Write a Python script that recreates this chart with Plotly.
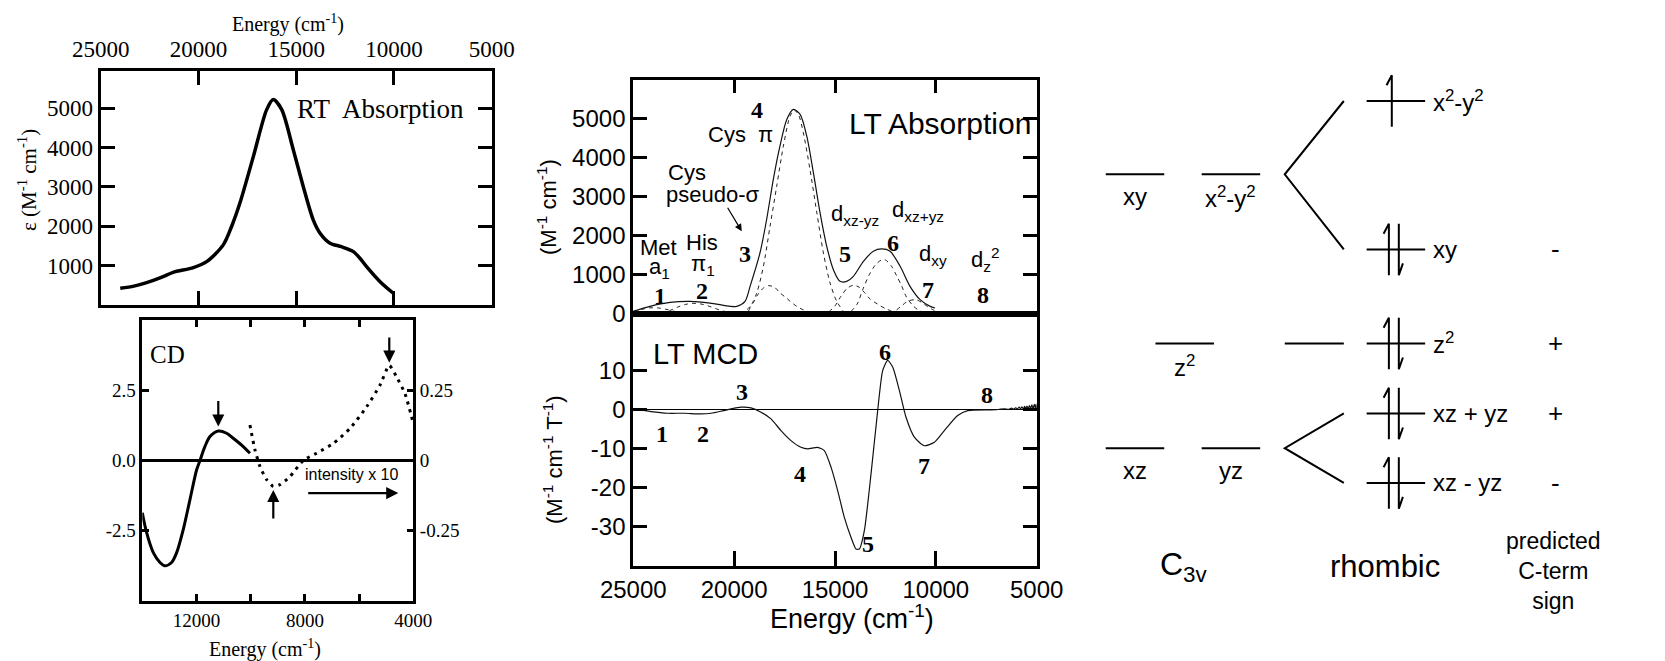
import plotly.graph_objects as go

W, H = 1665, 661
SERIF = "Liberation Serif"
SANS = "Liberation Sans"

# ---------------- data ----------------
# RT absorption (top-left)
rt_energy = [24000, 23300, 22650, 21900, 21300, 20260, 19580, 18730, 18300, 17880, 17190, 16510,
             16170, 15740, 15150, 14640, 14130, 13780, 13270, 12690, 12080, 11740, 11400, 10710, 10030]
rt_eps = [425, 480, 567, 700, 830, 950, 1100, 1527, 2000, 2588, 3774, 4962,
          5216, 4962, 3944, 3010, 2163, 1824, 1570, 1480, 1356, 1188, 975, 593, 298]
rt_xticks = [25000, 20000, 15000, 10000, 5000]
rt_xticktext = ["25000", "20000", "15000", "10000", "5000"]
rt_yticks = [1000, 2000, 3000, 4000, 5000]

# CD (bottom-left)
cd_energy = [14000, 13840, 13594, 13348, 13164, 12918, 12733, 12487, 12241, 11995, 11872,
             11688, 11503, 11196, 10888, 10642, 10335, 10028]
cd_signal = [-1.86, -2.57, -3.28, -3.63, -3.75, -3.63, -3.28, -2.45, -1.39, -0.33, 0.0,
             0.50, 0.85, 1.05, 0.97, 0.79, 0.55, 0.26]
cdx10_energy = [10028, 9843, 9658, 9412, 9166, 8920, 8551, 8059, 7567, 6952, 6337, 5722,
                5230, 4886, 4615, 4307, 4000]
cdx10_signal = [0.126, 0.038, -0.021, -0.068, -0.092, -0.086, -0.057, 0.0, 0.026, 0.061,
                0.114, 0.191, 0.268, 0.338, 0.297, 0.238, 0.132]
cd_xticks = [12000, 10000, 8000, 6000, 4000]
cd_xticktext = ["12000", "", "8000", "", "4000"]
cd_yticks = [-2.5, 0, 2.5]
cd_yticktext = ["-2.5", "0.0", "2.5"]
cd_y2ticks = [-0.25, 0, 0.25]
cd_y2ticktext = ["-0.25", "0", "0.25"]

# LT absorption (middle top)
lt_energy = [25000, 24170, 23180, 22190, 21200, 20200, 19870, 19460, 19210, 18720, 18390, 18060,
             17730, 17390, 17060, 16730, 16400, 16070, 15740, 15410, 15080, 14750, 14420, 14090,
             13590, 13100, 12680, 12270, 11770, 11280, 10780, 10280, 10040]
lt_abs = [60, 190, 290, 317, 274, 190, 190, 317, 703, 1560, 2416, 3445,
          4302, 4987, 5244, 5116, 4559, 3616, 2588, 1731, 1131, 831, 831, 960,
          1345, 1602, 1662, 1602, 1217, 703, 360, 189, 146]
band1_e = [25000, 24600, 24200, 23800, 23400, 23000, 22600, 22300]
band1_v = [60, 110, 150, 150, 115, 65, 25, 5]
band2_e = [23600, 23200, 22800, 22400, 22000, 21600, 21200, 20800, 20400, 20000]
band2_v = [20, 80, 170, 240, 265, 245, 185, 110, 50, 15]
band3_e = [19700, 19380, 19050, 18880, 18550, 18300, 18000, 17720, 17400, 17230, 16900, 16570, 16200]
band3_v = [20, 100, 280, 450, 660, 720, 680, 530, 400, 320, 190, 100, 30]
band4_e = [19300, 18880, 18550, 18220, 17890, 17560, 17230, 17030, 16815, 16570, 16240, 15900,
           15575, 15244, 14914, 14583]
band4_v = [60, 530, 1217, 2245, 3273, 4302, 5073, 5227, 5116, 4644, 3702, 2588, 1560, 788, 317, 60]
band5_e = [15300, 15000, 14700, 14400, 14100, 13800, 13500, 13250, 12900, 12500, 12100]
band5_v = [50, 200, 450, 650, 730, 680, 520, 370, 250, 130, 50]
band6_e = [14200, 13900, 13600, 13300, 13000, 12700, 12500, 12200, 11950, 11700, 11450, 11100, 10800, 10500]
band6_v = [60, 250, 650, 1000, 1250, 1380, 1380, 1220, 980, 720, 420, 190, 70, 20]
band7_e = [12300, 12000, 11700, 11400, 11000, 10700, 10400, 10100, 9900]
band7_v = [20, 80, 200, 320, 360, 290, 180, 90, 40]
lt_yticks = [0, 1000, 2000, 3000, 4000, 5000]

# LT MCD (middle bottom)
mcd_energy = [24950, 24124, 23298, 22471, 21645, 21149, 20653, 20157, 19661, 19165, 18669, 18174,
              17678, 17182, 16686, 16355, 15860, 15529, 15198, 14868, 14537, 14207, 13959, 13793,
              13545, 13215, 12884, 12636, 12388, 12140, 11810, 11479, 11066, 10570, 10074, 9579,
              8917, 8421, 7264, 6900, 6600, 6400, 6250, 6150, 6050, 5950, 5870, 5800, 5730, 5660,
              5600, 5540, 5480, 5420, 5360, 5300, 5240, 5180, 5120, 5070, 5030, 5010]
mcd_signal = [0.26, -0.43, -0.86, -0.86, -1.03, -0.86, -0.34, 0.26, 0.69, 0.51, -0.6, -2.31,
              -5.31, -7.88, -9.6, -10.0, -9.6, -10.45, -14.7, -20.7, -27.6, -32.7, -35.7, -35.7,
              -31.0, -16.5, -0.17, 10.1, 12.7, 11.0, 5.0, -1.9, -7.0, -9.2, -8.3, -5.3,
              -1.46, -0.17, 0.0, 0.1, 0.3, 0.15, 0.45, 0.2, 0.55, 0.25, 0.7, 0.3, 0.8, 0.2,
              0.9, 0.35, 1.0, 0.3, 1.1, 0.4, 1.3, 0.3, 1.4, 0.5, 1.5, 0.4]
mcd_xticks = [25000, 20000, 15000, 10000, 5000]
mcd_xticktext = ["25000", "20000", "15000", "10000", "5000"]
mcd_yticks = [-30, -20, -10, 0, 10]
mcd_yticktext = ["-30", "-20", "-10", "0", "10"]

# band labels: (number, energy, value)
abs_num = ["1", "2", "3", "4", "5", "6", "7", "8"]
abs_num_e = [23680, 21590, 19460, 18890, 14490, 12100, 10370, 7640]
abs_num_v = [450, 580, 1520, 5240, 1520, 1820, 620, 490]
mcd_num = ["1", "2", "3", "4", "5", "6", "7", "8"]
mcd_num_e = [23590, 21530, 19620, 16730, 13340, 12520, 10610, 7470]
mcd_num_v = [-6.2, -6.2, 4.5, -16.5, -34.4, 14.8, -14.3, 3.7]

# d-orbital diagram (energies in arbitrary units)
c3v_labels = ["xy", "x<sup>2</sup>-y<sup>2</sup>", "z<sup>2</sup>", "xz", "yz"]
c3v_x = [0.94, 2.58, 1.79, 0.94, 2.58]
c3v_E = [8.69, 8.69, 5.67, 3.80, 3.80]
rh_labels = ["x<sup>2</sup>-y<sup>2</sup>", "xy", "z<sup>2</sup>", "xz + yz", "xz - yz"]
rh_E = [10.0, 7.35, 5.67, 4.42, 3.18]
rh_electrons = [1, 2, 2, 2, 2]
rh_sign = ["", "-", "+", "+", "-"]

# ---------------- helpers ----------------
def px(x):
    return x / W


def py(y):
    return 1 - y / H


fig = go.Figure()
black = "black"

# RT absorption
fig.add_trace(go.Scatter(x=rt_energy, y=rt_eps, mode="lines", xaxis="x", yaxis="y",
                         line=dict(color=black, width=3.5, shape="spline", smoothing=0.8)))
# CD
fig.add_trace(go.Scatter(x=cd_energy, y=cd_signal, mode="lines", xaxis="x2", yaxis="y2",
                         line=dict(color=black, width=3, shape="spline", smoothing=0.8)))
fig.add_trace(go.Scatter(x=cdx10_energy, y=cdx10_signal, mode="lines", xaxis="x2", yaxis="y3",
                         line=dict(color=black, width=3, dash="3px,5px", shape="spline", smoothing=0.6)))
# LT absorption components
for be, bv in [(band1_e, band1_v), (band2_e, band2_v), (band3_e, band3_v), (band4_e, band4_v),
               (band5_e, band5_v), (band6_e, band6_v), (band7_e, band7_v)]:
    fig.add_trace(go.Scatter(x=be, y=bv, mode="lines", xaxis="x3", yaxis="y4",
                             line=dict(color="#222", width=1, dash="4px,4px", shape="spline", smoothing=0.8)))
fig.add_trace(go.Scatter(x=lt_energy, y=lt_abs, mode="lines", xaxis="x3", yaxis="y4",
                         line=dict(color="#111", width=1.2, shape="spline", smoothing=0.8)))
# LT MCD
fig.add_trace(go.Scatter(x=mcd_energy, y=mcd_signal, mode="lines", xaxis="x4", yaxis="y5",
                         line=dict(color="#111", width=1.2, shape="spline", smoothing=0.6)))

# ---------------- diagram ----------------
HW = 0.5
dl = dict(color=black, width=2)
for x0, e in zip(c3v_x, c3v_E):
    fig.add_trace(go.Scatter(x=[x0 - HW, x0 + HW], y=[e, e], mode="lines", xaxis="x5", yaxis="y6", line=dl))
RH_X = 5.4
for e, n in zip(rh_E, rh_electrons):
    fig.add_trace(go.Scatter(x=[RH_X - HW, RH_X + HW], y=[e, e], mode="lines", xaxis="x5", yaxis="y6", line=dl))
    if n == 1:
        xs = RH_X - 0.07
        fig.add_trace(go.Scatter(x=[xs - 0.09, xs, xs], y=[e + 0.28, e + 0.46, e - 0.46], mode="lines",
                                 xaxis="x5", yaxis="y6", line=dl))
    else:
        xu = RH_X - 0.12
        xd = RH_X + 0.05
        fig.add_trace(go.Scatter(x=[xu - 0.09, xu, xu], y=[e + 0.28, e + 0.46, e - 0.46], mode="lines",
                                 xaxis="x5", yaxis="y6", line=dl))
        fig.add_trace(go.Scatter(x=[xd, xd, xd + 0.07], y=[e + 0.46, e - 0.46, e - 0.25], mode="lines",
                                 xaxis="x5", yaxis="y6", line=dl))
# correlation lines
CX0, CX1 = 3.5, 4.51
fig.add_trace(go.Scatter(x=[CX1, CX0, CX1], y=[rh_E[0], c3v_E[0], rh_E[1]], mode="lines",
                         xaxis="x5", yaxis="y6", line=dl))
fig.add_trace(go.Scatter(x=[CX0, CX1], y=[c3v_E[2], rh_E[2]], mode="lines",
                         xaxis="x5", yaxis="y6", line=dl))
fig.add_trace(go.Scatter(x=[CX1, CX0, CX1], y=[rh_E[3], c3v_E[3], rh_E[4]], mode="lines",
                         xaxis="x5", yaxis="y6", line=dl))

ann = []


def text(x, y, t, xref, yref, family, size, **kw):
    d = dict(x=x, y=y, xref=xref, yref=yref, text=t, showarrow=False, xanchor="center",
             yanchor="middle", font=dict(family=family, size=size, color=black))
    d.update(kw)
    ann.append(d)


for lab, x0, e in zip(c3v_labels, c3v_x, c3v_E):
    text(x0, e - 0.4, lab, "x5", "y6", SANS, 24)
for lab, e, s in zip(rh_labels, rh_E, rh_sign):
    text(6.0, e, lab, "x5", "y6", SANS, 24, xanchor="left")
    if s:
        text(8.12, e, s, "x5", "y6", SANS, 26)
text(1.77, 1.68, "C<sub>3v</sub>", "x5", "y6", SANS, 32)
text(5.21, 1.68, "rhombic", "x5", "y6", SANS, 31)
text(8.09, 1.6, "predicted<br>C-term<br>sign", "x5", "y6", SANS, 23)

# ---------------- spectra labels ----------------
text(10713, 4987, "RT\u00a0 Absorption", "x", "y", SERIF, 27)
text(px(288), py(23), "Energy (cm<sup>-1</sup>)", "paper", "paper", SERIF, 20)
text(px(27), py(180), "\u03b5 (M<sup>-1</sup> cm<sup>-1</sup>)", "paper", "paper", SERIF, 21, textangle=-90)
# CD
text(13070, 3.78, "CD", "x2", "y2", SERIF, 25)
text(6299, -0.51, "intensity x 10", "x2", "y2", SANS, 16)
text(px(265), py(648), "Energy (cm<sup>-1</sup>)", "paper", "paper", SERIF, 20)
for hx, hy, tx, ty in [(11196, 1.21, 11196, 2.17), (9166, -1.05, 9166, -2.12),
                       (4886, 3.48, 4886, 4.43), (4554, -1.16, 7934, -1.16)]:
    ann.append(dict(x=hx, y=hy, ax=tx, ay=ty, xref="x2", yref="y2", axref="x2", ayref="y2", text="",
                    showarrow=True, arrowhead=2, arrowsize=1.1, arrowwidth=2.2, arrowcolor=black))
# LT absorption
text(9790, 4880, "LT Absorption", "x3", "y4", SANS, 30)
for t, e, v in zip(abs_num, abs_num_e, abs_num_v):
    text(e, v, "<b>%s</b>" % t, "x3", "y4", SERIF, 24)
abs_text = [("Met", 23760, 1700), ("a<sub>1</sub>", 23700, 1180), ("His", 21600, 1830),
            ("\u03c0<sub>1</sub>", 21520, 1250), ("Cys", 22350, 3620), ("pseudo-\u03c3", 21030, 3060),
            ("Cys\u00a0 \u03c0", 19709, 4602), ("d<sub>xz-yz</sub>", 14003, 2545),
            ("d<sub>xz+yz</sub>", 10862, 2630), ("d<sub>xy</sub>", 10121, 1517),
            ("d<sub>z</sub><sup>2</sup>", 7555, 1388)]
for t, e, v in abs_text:
    text(e, v, t, "x3", "y4", SANS, 22)
ann.append(dict(x=19623, y=2116, ax=20367, ay=2758, xref="x3", yref="y4", axref="x3", ayref="y4",
                text="", showarrow=True, arrowhead=2, arrowsize=1.2, arrowwidth=1.2, arrowcolor=black))
text(px(547), py(207), "(M<sup>-1</sup> cm<sup>-1</sup>)", "paper", "paper", SANS, 22, textangle=-90)
# LT MCD
text(21404, 14.4, "LT MCD", "x4", "y5", SANS, 29)
for t, e, v in zip(mcd_num, mcd_num_e, mcd_num_v):
    text(e, v, "<b>%s</b>" % t, "x4", "y5", SERIF, 24)
text(px(553), py(460), "(M<sup>-1</sup> cm<sup>-1</sup> T<sup>-1</sup>)", "paper", "paper", SANS, 22,
     textangle=-90)
text(px(852), py(617), "Energy (cm<sup>-1</sup>)", "paper", "paper", SANS, 27)


def axstyle(family, size, lw=3, tl=14):
    return dict(showline=True, linecolor=black, linewidth=lw, ticks="inside", ticklen=tl,
                tickwidth=lw, tickcolor=black, showgrid=False, zeroline=False, fixedrange=True,
                automargin=False, tickfont=dict(family=family, size=size, color=black))


YSPLIT = py(313.7)
layout = dict(
    template="none",
    width=W, height=H, margin=dict(l=0, r=0, t=0, b=0, pad=0, autoexpand=False), showlegend=False,
    paper_bgcolor="white", plot_bgcolor="rgba(0,0,0,0)", annotations=ann,
    font=dict(family=SANS, size=20, color=black),
    xaxis=dict(axstyle(SERIF, 23), domain=[px(100.7), px(491.7)], range=[25000, 5000], side="top",
               anchor="y", mirror="ticks", tickvals=rt_xticks, ticktext=rt_xticktext, ticklabelstandoff=2),
    yaxis=dict(axstyle(SERIF, 23), domain=[py(305), py(70.7)], range=[0, 5950], anchor="x",
               mirror="ticks", tickvals=rt_yticks, ticktext=[str(v) for v in rt_yticks]),
    xaxis2=dict(axstyle(SERIF, 19, 2.5, 7), domain=[px(142.3), px(413.3)], range=[14000, 4000],
                anchor="y2", mirror="ticks", tickvals=cd_xticks, ticktext=cd_xticktext,
                ticklabelstandoff=0),
    yaxis2=dict(axstyle(SERIF, 19, 2.5, 7), domain=[py(601), py(320)], range=[-5, 5], anchor="x2",
                tickvals=cd_yticks, ticktext=cd_yticktext, zeroline=True, zerolinecolor=black,
                zerolinewidth=2.5),
    yaxis3=dict(axstyle(SERIF, 19, 2.5, 7), range=[-0.5, 0.5], overlaying="y2", side="right",
                anchor="x2", tickvals=cd_y2ticks, ticktext=cd_y2ticktext),
    xaxis3=dict(axstyle(SANS, 24, 3, 13), domain=[px(633.3), px(1036.7)], range=[25000, 5000],
                anchor="y4", side="top", mirror=True, showticklabels=False,
                tickvals=[20000, 15000, 10000]),
    yaxis4=dict(axstyle(SANS, 24, 3, 14), domain=[YSPLIT, py(80)], range=[0, 6000], anchor="x3",
                mirror="ticks", tickvals=lt_yticks, ticktext=[str(v) for v in lt_yticks]),
    xaxis4=dict(axstyle(SANS, 24, 3, 15), domain=[px(633.3), px(1036.7)], range=[25000, 5000],
                anchor="y5", side="bottom", mirror=True, tickvals=mcd_xticks, ticktext=mcd_xticktext,
                ticklabelstandoff=0),
    yaxis5=dict(axstyle(SANS, 24, 3, 14), domain=[py(565.7), YSPLIT], range=[-40, 24.7], anchor="x4",
                mirror="ticks", tickvals=mcd_yticks, ticktext=mcd_yticktext, zeroline=True,
                zerolinecolor=black, zerolinewidth=1),
    xaxis5=dict(domain=[px(1080), 1.0], range=[0, 10], anchor="y6", visible=False, fixedrange=True),
    yaxis6=dict(domain=[0, 1], range=[0, H / 56.0], anchor="x5", visible=False, fixedrange=True),
)
fig.update_layout(**layout)
fig.update_traces(hoverinfo="skip")
fig.write_html("out.html", config={"displayModeBar": False},
               post_script="document.body.style.margin='0px';")
